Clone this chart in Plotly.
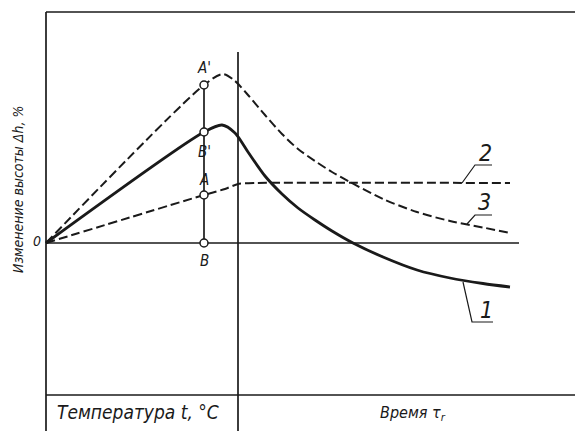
import plotly.graph_objects as go

# Schematic values (arbitrary units, origin at "0")
# Curve 1 - solid
c1_x = [0, 15.8, 17.6, 18.9, 20.2, 21.9, 23.6, 25.2, 26.9, 28.6, 30.7, 33.7, 37.1, 40.4, 43.7, 46.4]
c1_y = [0, 11.1, 11.8, 11.0, 9.1, 6.7, 4.9, 3.5, 2.3, 1.2, 0.0, -1.4, -2.7, -3.5, -4.05, -4.4]
# Curve 2 - dashed, levels off
c2_x = [0, 15.8, 17.9, 19.2, 21.0, 46.4]
c2_y = [0, 4.8, 5.4, 5.9, 6.0, 6.0]
# Curve 3 - dashed, peak then decay
c3_x = [0, 15.8, 17.7, 18.9, 20.2, 21.9, 23.6, 25.2, 26.9, 28.6, 30.4, 33.7, 37.1, 40.4, 43.7, 46.4]
c3_y = [0, 15.8, 16.9, 16.2, 14.8, 12.8, 10.9, 9.4, 8.2, 7.1, 6.1, 4.4, 3.1, 2.2, 1.55, 1.0]

# Points A', B', A, B
pt_x = [15.8, 15.8, 15.8, 15.8]
pt_y = [15.8, 11.1, 4.8, 0.0]
pt_labels = ["A'", "B'", "A", "B"]
pt_label_y = [17.5, 9.1, 6.3, -1.8]

# Curve numbers with their leader lines
num_labels = ["1", "2", "3"]
num_x = [44.0, 43.9, 43.8]
num_y = [-6.7, 9.0, 4.1]
lead_x = [[41.7, 42.6, 44.7], [41.6, 42.9, 44.6], [42.1, 42.9, 44.6]]
lead_y = [[-3.9, -7.9, -7.9], [6.0, 7.8, 7.8], [1.9, 2.8, 2.8]]

# Frame of the drawing
x_min, x_max = -3.8, 54.5
y_min, y_max = -19.6, 23.5
frame_top = 23.1
frame_bottom = -15.2
t_divider = 19.2
divider_top = 19.1
zero_end = 47.3

ink = "#1a1a1a"
font_family = "Liberation Sans Narrow, DejaVu Sans Condensed, Liberation Sans, Arial"
dash = "9px,4px"

fig = go.Figure()

# frame lines
frame = [
    ([0, 0], [frame_top, y_min]),
    ([0, x_max], [frame_top, frame_top]),
    ([0, x_max], [frame_bottom, frame_bottom]),
    ([t_divider, t_divider], [divider_top, y_min]),
    ([0, zero_end], [0, 0]),
]
for fx, fy in frame:
    fig.add_trace(go.Scatter(x=fx, y=fy, mode="lines",
                             line=dict(color=ink, width=1.7),
                             hoverinfo="skip", showlegend=False))

# curves
fig.add_trace(go.Scatter(x=c3_x, y=c3_y, mode="lines",
                         line=dict(color=ink, width=2.0, dash=dash, shape="spline", smoothing=0.8),
                         showlegend=False))
fig.add_trace(go.Scatter(x=c2_x, y=c2_y, mode="lines",
                         line=dict(color=ink, width=2.0, dash=dash, shape="spline", smoothing=0.6),
                         showlegend=False))
fig.add_trace(go.Scatter(x=c1_x, y=c1_y, mode="lines",
                         line=dict(color=ink, width=2.8, shape="spline", smoothing=0.8),
                         showlegend=False))

# vertical A'-B
fig.add_trace(go.Scatter(x=[pt_x[0], pt_x[3]], y=[pt_y[0], pt_y[3]], mode="lines",
                         line=dict(color=ink, width=1.7), showlegend=False))

# leader lines
for lx, ly in zip(lead_x, lead_y):
    fig.add_trace(go.Scatter(x=lx, y=ly, mode="lines",
                             line=dict(color=ink, width=1.2),
                             hoverinfo="skip", showlegend=False))

# open circle markers
fig.add_trace(go.Scatter(x=pt_x, y=pt_y, mode="markers",
                         marker=dict(symbol="circle", size=8, color="white",
                                     line=dict(color=ink, width=1.5)),
                         showlegend=False))

annotations = []
for lab, x, y in zip(pt_labels, pt_x, pt_label_y):
    annotations.append(dict(x=x, y=y, text="<i>" + lab + "</i>", showarrow=False,
                            font=dict(size=15, color=ink)))
for lab, x, y in zip(num_labels, num_x, num_y):
    annotations.append(dict(x=x, y=y, text="<i>" + lab + "</i>", showarrow=False,
                            font=dict(size=23, color=ink)))
annotations += [
    dict(x=-0.9, y=0.2, text="<i>0</i>", showarrow=False, font=dict(size=14, color=ink)),
    dict(x=-2.8, y=5.3, text="<i>Изменение высоты Δh, %</i>", textangle=-90,
         showarrow=False, font=dict(size=14, color=ink)),
    dict(x=9.2, y=-16.9, text="<i>Температура t, °C</i>", showarrow=False,
         font=dict(size=19, color=ink)),
    dict(x=36.7, y=-17.0, text="<i>Время τ<sub>r</sub></i>", showarrow=False,
         font=dict(size=16, color=ink)),
]

fig.update_xaxes(range=[x_min, x_max], visible=False)
fig.update_yaxes(range=[y_min, y_max], visible=False)
fig.update_layout(
    width=583, height=431,
    margin=dict(l=0, r=0, t=0, b=0),
    plot_bgcolor="white", paper_bgcolor="white",
    font=dict(family=font_family, color=ink),
    annotations=annotations,
)

fig.write_html("out.html")
